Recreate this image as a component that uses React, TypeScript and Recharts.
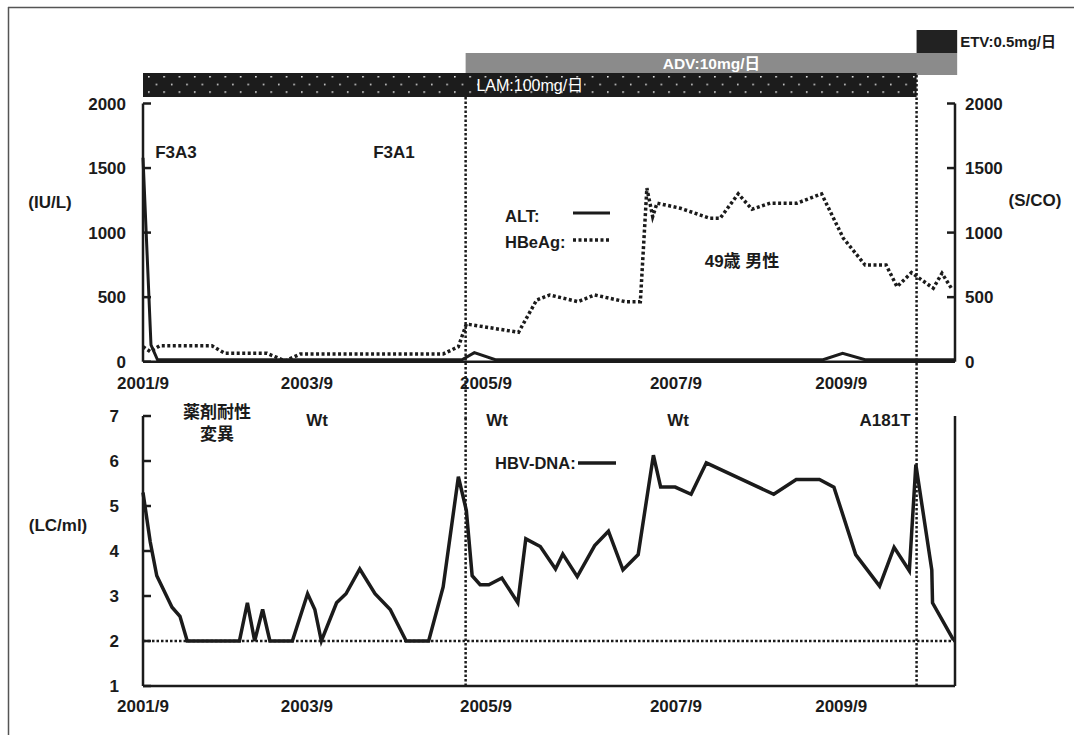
import React from 'react';
import { LineChart, Line, XAxis, YAxis, ReferenceLine, ReferenceArea } from 'recharts';

const FONT = '"Liberation Sans", Arial, "Noto Sans CJK JP", sans-serif';
const INK = '#1b1b1b';

// time axis: months elapsed since 2001/9
const monthDomain: [number, number] = [0, 112];
const dateTickMonths = [0, 22.6, 47.3, 73.5, 96.3];
const dateTickLabels = ['2001/9', '2003/9', '2005/9', '2007/9', '2009/9'];

// ALT (IU/L)
const altMonths = [0, 1.1, 2.0, 44.0, 45.7, 48.6, 93.8, 96.5, 99.6, 112];
const altValues = [1580, 130, 15, 15, 70, 15, 15, 65, 15, 15];

// HBeAg (S/CO)
const hbeagMonths = [
  0, 1.0, 2.3, 9.5, 11.3, 17.1, 18.2, 19.6, 21.7, 41.4,
  43.5, 44.6, 51.8, 54.3, 56.1, 60.0, 62.3, 66.5, 68.6, 69.5,
  70.3, 70.9, 74.1, 78.2, 79.6, 82.1, 84.0, 86.5, 90.2, 93.6,
  96.6, 99.6, 102.5, 104.0, 106.0, 109.0, 110.2, 111.5,
];
const hbeagValues = [
  116, 78, 124, 124, 65, 65, 39, 5, 60, 60,
  116, 292, 228, 478, 517, 465, 517, 465, 465, 1344,
  1124, 1228, 1189, 1111, 1111, 1300, 1181, 1228, 1228, 1300,
  956, 749, 749, 581, 690, 569, 685, 569,
];

// HBV-DNA (log copies/ml)
const hbvMonths = [
  0, 1.0, 1.9, 4.0, 5.1, 6.1, 13.3, 14.4, 15.4, 16.5,
  17.5, 20.6, 22.7, 23.7, 24.6, 26.7, 28.0, 29.9, 32.0, 34.1,
  36.3, 39.4, 41.4, 43.5, 44.6, 45.4, 46.5, 47.7, 49.5, 51.7,
  52.8, 54.8, 56.9, 57.9, 59.9, 62.3, 64.2, 66.2, 68.3, 70.4,
  71.4, 73.4, 75.6, 77.7, 87.0, 90.1, 93.3, 95.3, 98.3, 101.6,
  103.6, 105.7, 106.6, 108.8, 108.9, 111.8,
];
const hbvValues = [
  5.3, 4.2, 3.45, 2.75, 2.55, 2.0, 2.0, 2.85, 2.0, 2.7,
  2.0, 2.0, 3.05, 2.7, 2.0, 2.85, 3.05, 3.6, 3.05, 2.7,
  2.0, 2.0, 3.2, 5.65, 4.9, 3.45, 3.25, 3.25, 3.4, 2.85,
  4.27, 4.1, 3.6, 3.93, 3.43, 4.12, 4.44, 3.58, 3.92, 6.13,
  5.42, 5.42, 5.26, 5.96, 5.26, 5.59, 5.59, 5.42, 3.92, 3.22,
  4.08, 3.56, 5.92, 3.58, 2.85, 2.02,
];

// antiviral regimens
const drugNames = ['LAM:100mg/日', 'ADV:10mg/日', 'ETV:0.5mg/日'];
const drugStart = [0, 44.5, 106.7];
const drugEnd = [106.7, 112.3, 112.3];

// axis ticks
const iuTicks = [0, 500, 1000, 1500, 2000];
const dnaTicks = [1, 2, 3, 4, 5, 6, 7];
const dnaDetectionLimit = 2;

const altData = altMonths.map((m, i) => ({ m, v: altValues[i] }));
const hbeagData = hbeagMonths.map((m, i) => ({ m, v: hbeagValues[i] }));
const hbvData = hbvMonths.map((m, i) => ({ m, v: hbvValues[i] }));

const fmtDate = (v: number) => {
  const i = dateTickMonths.indexOf(v);
  return i >= 0 ? dateTickLabels[i] : '';
};

const tickFont = { fill: INK, fontSize: 17, fontWeight: 700, fontFamily: FONT };
const axisStroke = { stroke: INK, strokeWidth: 2.5 };

// regimen bars drawn above the 2000 line of the upper panel (left-axis units)
const bandY: Record<number, [number, number]> = {
  0: [2050, 2236],
  1: [2221, 2391],
  2: [2391, 2570],
};
const bandFill: Record<number, string> = {
  0: 'url(#lamDots)',
  1: '#8b8b8b',
  2: '#222222',
};
const bandLabel = (i: number) => {
  if (i === 0) return { value: drugNames[0], position: 'center' as const, fill: '#ffffff', fontSize: 16, fontFamily: FONT };
  if (i === 1) return { value: drugNames[1], position: 'center' as const, fill: '#ffffff', fontSize: 15.5, fontWeight: 700, fontFamily: FONT };
  return { value: drugNames[2], position: 'right' as const, offset: 3, fill: INK, fontSize: 15, fontWeight: 700, fontFamily: FONT };
};

const dotted = { stroke: INK, strokeWidth: 2.5, strokeDasharray: '2.5 2' };

const T = (p: { x: number; y: number; children: React.ReactNode; anchor?: 'start' | 'middle' | 'end'; size?: number }) => (
  <text
    x={p.x}
    y={p.y}
    textAnchor={p.anchor ?? 'middle'}
    dominantBaseline="central"
    fontFamily={FONT}
    fontWeight={700}
    fontSize={p.size ?? 17}
    fill={INK}
  >
    {p.children}
  </text>
);

export default function App() {
  return (
    <div style={{ position: 'absolute', left: 0, top: 0, width: 1074, height: 735, background: '#fff', overflow: 'hidden' }}>
      <svg width={0} height={0} style={{ position: 'absolute' }}>
        <defs>
          <pattern id="lamDots" patternUnits="userSpaceOnUse" x={148} y={76} width={15.3} height={15.3}>
            <rect x={0} y={0} width={15.3} height={15.3} fill="#1c1c1c" />
            <circle cx={0.8} cy={0.8} r={0.9} fill="#f4f4f4" />
            <circle cx={8.45} cy={8.45} r={0.9} fill="#f4f4f4" />
          </pattern>
        </defs>
      </svg>

      {/* upper panel: ALT and HBeAg */}
      <div style={{ position: 'absolute', left: 0, top: 0 }}>
        <LineChart width={1074} height={425} margin={{ top: 103.5, right: 0, bottom: 33.3, left: 0 }}>
          <XAxis
            dataKey="m"
            type="number"
            domain={monthDomain}
            ticks={dateTickMonths}
            tickFormatter={fmtDate}
            interval={0}
            height={30}
            tickSize={0}
            tickMargin={15}
            tickLine={false}
            axisLine={axisStroke}
            tick={tickFont}
          />
          <YAxis
            yAxisId="l"
            domain={[0, 2000]}
            ticks={iuTicks}
            width={143}
            tickSize={-8}
            tickMargin={25}
            tickLine={axisStroke}
            axisLine={axisStroke}
            tick={tickFont}
          />
          <YAxis
            yAxisId="r"
            orientation="right"
            domain={[0, 2000]}
            ticks={iuTicks}
            width={119}
            tickSize={-8}
            tickMargin={18}
            tickLine={axisStroke}
            axisLine={axisStroke}
            tick={{ ...tickFont, textAnchor: 'start' }}
          />
          {[1, 2, 0].map((i) => (
            <ReferenceArea
              key={drugNames[i]}
              yAxisId="l"
              x1={drugStart[i]}
              x2={drugEnd[i]}
              y1={bandY[i][0]}
              y2={bandY[i][1]}
              ifOverflow="visible"
              fill={bandFill[i]}
              fillOpacity={1}
              stroke="none"
              label={bandLabel(i)}
            />
          ))}
          <ReferenceLine
            yAxisId="l"
            segment={[{ x: drugStart[1], y: bandY[0][0] }, { x: drugStart[1], y: -450 }]}
            ifOverflow="visible"
            {...dotted}
          />
          <ReferenceLine
            yAxisId="l"
            segment={[{ x: drugStart[2], y: bandY[1][0] }, { x: drugStart[2], y: -450 }]}
            ifOverflow="visible"
            {...dotted}
          />
          <Line
            yAxisId="r"
            data={hbeagData}
            dataKey="v"
            type="linear"
            stroke={INK}
            strokeWidth={3.5}
            strokeDasharray="3 2.5"
            dot={false}
            isAnimationActive={false}
          />
          <Line
            yAxisId="l"
            data={altData}
            dataKey="v"
            type="linear"
            stroke={INK}
            strokeWidth={3}
            dot={false}
            isAnimationActive={false}
          />
        </LineChart>
      </div>

      {/* lower panel: HBV-DNA */}
      <div style={{ position: 'absolute', left: 0, top: 400 }}>
        <LineChart width={1074} height={335} margin={{ top: 16, right: 0, bottom: 19, left: 0 }}>
          <XAxis
            dataKey="m"
            type="number"
            domain={monthDomain}
            ticks={dateTickMonths}
            tickFormatter={fmtDate}
            interval={0}
            height={30}
            tickSize={0}
            tickMargin={14}
            tickLine={false}
            axisLine={axisStroke}
            tick={tickFont}
          />
          <YAxis
            yAxisId="l"
            domain={[1, 7]}
            ticks={dnaTicks}
            width={143}
            tickSize={-8}
            tickMargin={32}
            tickLine={axisStroke}
            axisLine={axisStroke}
            tick={tickFont}
          />
          <YAxis yAxisId="r" orientation="right" domain={[1, 7]} width={119} tick={false} tickLine={false} axisLine={axisStroke} />
          <ReferenceLine yAxisId="l" y={dnaDetectionLimit} {...dotted} />
          <ReferenceLine yAxisId="l" x={drugStart[1]} {...dotted} />
          <ReferenceLine yAxisId="l" x={drugStart[2]} {...dotted} />
          <Line
            yAxisId="l"
            data={hbvData}
            dataKey="v"
            type="linear"
            stroke={INK}
            strokeWidth={3.5}
            dot={false}
            isAnimationActive={false}
          />
        </LineChart>
      </div>

      {/* annotations, legends and axis titles */}
      <svg width={1074} height={735} style={{ position: 'absolute', left: 0, top: 0, pointerEvents: 'none' }}>
        <line x1={8.5} y1={7} x2={8.5} y2={735} stroke="#555" strokeWidth={1.5} />
        <line x1={8} y1={7.5} x2={1074} y2={7.5} stroke="#555" strokeWidth={1.5} />

        <T x={176} y={152}>F3A3</T>
        <T x={394} y={152}>F3A1</T>
        <T x={742} y={261}>49歳 男性</T>
        <T x={50} y={202}>(IU/L)</T>
        <T x={1035} y={200}>(S/CO)</T>
        <T x={58} y={525}>(LC/ml)</T>

        <T x={505} y={216} anchor="start" size={16.5}>ALT:</T>
        <line x1={573} y1={213} x2={610} y2={213} stroke={INK} strokeWidth={3} />
        <T x={505} y={242} anchor="start" size={16.5}>HBeAg:</T>
        <line x1={573} y1={240} x2={610} y2={240} stroke={INK} strokeWidth={3.5} strokeDasharray="3 2.5" />

        <T x={217} y={412}>薬剤耐性</T>
        <T x={217} y={434}>変異</T>
        <T x={317} y={420}>Wt</T>
        <T x={497} y={420}>Wt</T>
        <T x={678} y={420}>Wt</T>
        <T x={885} y={420}>A181T</T>

        <T x={495} y={463} anchor="start" size={16.5}>HBV-DNA:</T>
        <line x1={578} y1={463} x2={616} y2={463} stroke={INK} strokeWidth={3.5} />
      </svg>
    </div>
  );
}
